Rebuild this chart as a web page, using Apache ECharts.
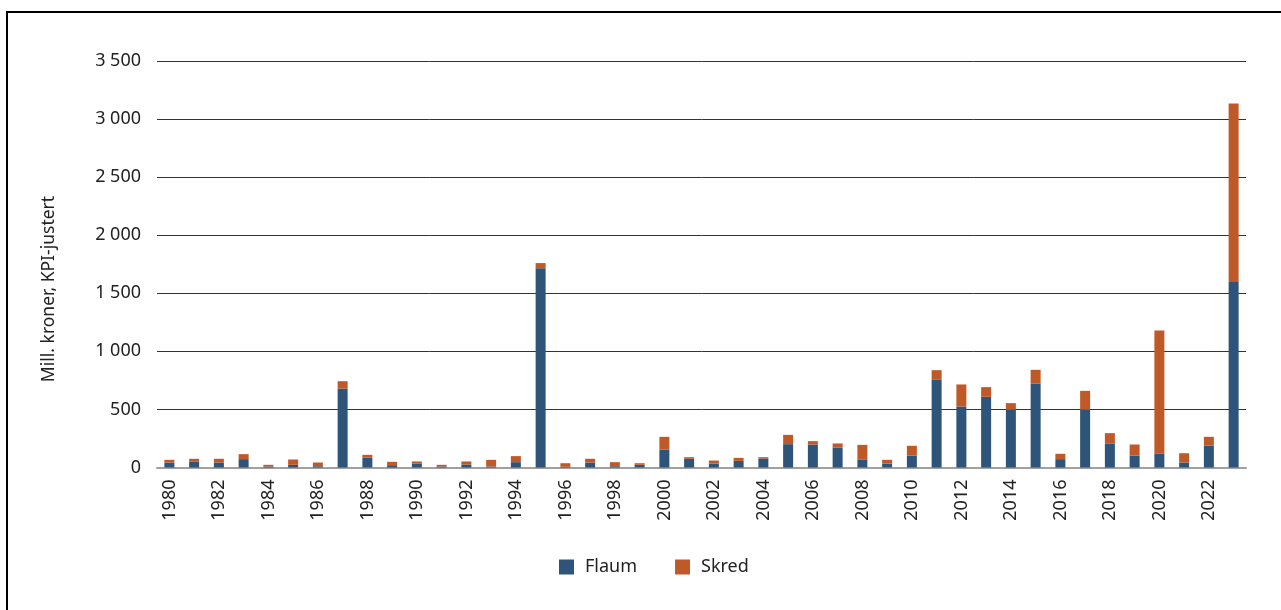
<!DOCTYPE html>
<html>
<head>
<meta charset="utf-8">
<script src="https://cdn.jsdelivr.net/npm/echarts@6/dist/echarts.min.js"></script>
<style>html,body{margin:0;padding:0;background:#fff}#c{width:1281px;height:610px}</style>
</head>
<body>
<div id="c"></div>
<script>
const years = ['1980','1981','1982','1983','1984','1985','1986','1987','1988','1989','1990','1991','1992','1993','1994','1995','1996','1997','1998','1999','2000','2001','2002','2003','2004','2005','2006','2007','2008','2009','2010','2011','2012','2013','2014','2015','2016','2017','2018','2019','2020','2021','2022','2023'];
const flaum = [43,49,43,72,9,23,11,680,86,20,32,9,26,9,46,1715,6,43,11,23,155,75,34,57,78,201,198,172,66,34,103,755,525,609,497,721,72,497,204,103,121,43,189,1597];
const skred = [23,26,32,43,14,46,32,63,23,29,20,14,26,57,52,45,31,32,35,14,109,14,26,26,11,80,29,35,129,32,84,83,190,83,57,120,46,163,92,95,1059,80,75,1538];
const yTicks = [0,500,1000,1500,2000,2500,3000,3500];
const yName = 'Mill. kroner, KPI-justert';

const fmt = v => String(v).replace(/\B(?=(\d{3})+(?!\d))/g, ' ');
const chart = echarts.init(document.getElementById('c'), null, {renderer:'canvas'});
const font = 'Noto Sans';
chart.setOption({
  animation:false,
  color:['#2e5579','#bf5a28'],
  graphic:[
    {type:'rect',shape:{x:7,y:12,width:1300,height:700},style:{fill:'none',stroke:'#000',lineWidth:2}},
    {type:'text',x:49,y:289,rotation:Math.PI/2,style:{text:yName,font:'17.5px "Noto Sans"',fill:'#222',align:'center',verticalAlign:'middle'}}
  ],
  grid:{left:157,right:35,top:61,bottom:142.5,containLabel:false},
  legend:{data:['Flaum','Skred'],top:553,left:554,itemWidth:15,itemHeight:15,itemGap:38,icon:'rect',
    textStyle:{fontFamily:font,fontSize:18,color:'#222',padding:[0,0,0,6]}},
  xAxis:{type:'category',data:years,
    axisLine:{lineStyle:{color:'#a0a0a0',width:2}},axisTick:{show:false},
    axisLabel:{interval:1,rotate:90,fontFamily:font,fontSize:18,color:'#222',margin:12}},
  yAxis:{type:'value',min:0,max:3500,interval:500,
    axisLine:{show:false},axisTick:{show:false},
    splitLine:{lineStyle:{color:'#333',width:1}},
    axisLabel:{fontFamily:font,fontSize:18,color:'#222',margin:16,formatter:v=>fmt(v)}},
  series:[
    {name:'Flaum',type:'bar',stack:'t',data:flaum,barWidth:10},
    {name:'Skred',type:'bar',stack:'t',data:skred,barWidth:10}
  ]
});
</script>
</body>
</html>
